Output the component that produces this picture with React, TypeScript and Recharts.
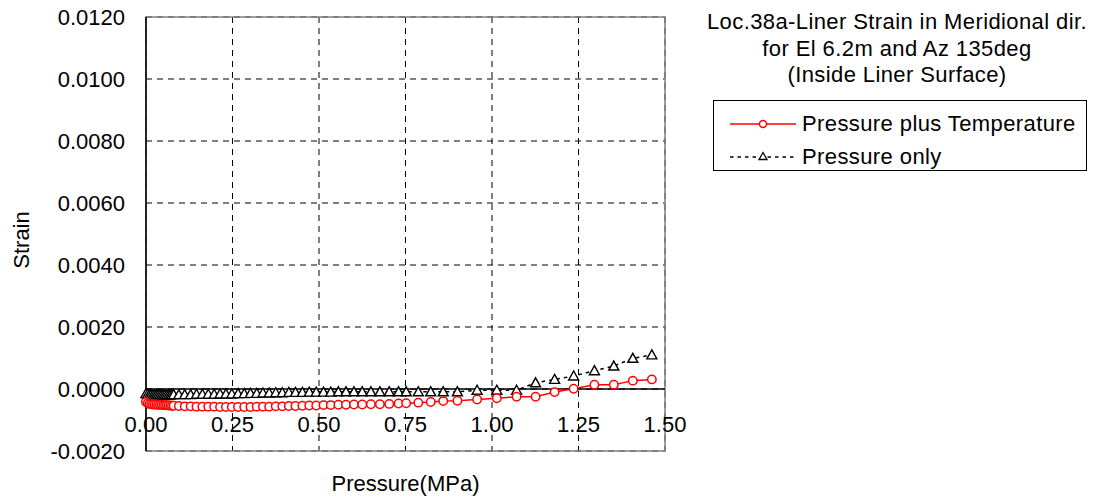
import React from "react";
import {
  CartesianGrid,
  Legend,
  Line,
  LineChart,
  ReferenceArea,
  ReferenceLine,
  XAxis,
  YAxis,
} from "recharts";

const FONT = "'Liberation Sans', Arial, sans-serif";

// pressure (MPa)
const pressure = [
  0, 0.005, 0.01, 0.015, 0.02, 0.025, 0.03, 0.035, 0.04, 0.045, 0.05, 0.055,
  0.06, 0.065, 0.07, 0.075, 0.08,
  0.095, 0.112, 0.129, 0.146, 0.163, 0.18, 0.197, 0.214, 0.231, 0.248, 0.266,
  0.284, 0.302, 0.32, 0.338, 0.356, 0.375, 0.394, 0.413, 0.432, 0.452, 0.472,
  0.492, 0.513, 0.534, 0.556, 0.578, 0.601, 0.625, 0.65, 0.676, 0.703, 0.73,
  0.752, 0.787, 0.823, 0.859, 0.9, 0.957, 1.014, 1.071, 1.126, 1.181, 1.236,
  1.296, 1.352, 1.407, 1.462,
];

// Pressure plus Temperature
const strainPT = [
  -0.00042, -0.00046, -0.00048, -0.00049, -0.0005, -0.0005, -0.0005, -0.00051,
  -0.00051, -0.00051, -0.00052, -0.00052, -0.00052, -0.00053, -0.00053,
  -0.00054, -0.00054,
  -0.00055, -0.00056, -0.00056, -0.00057, -0.00057, -0.00057, -0.00057,
  -0.00058, -0.00058, -0.00058, -0.00058, -0.00058, -0.00058, -0.00057,
  -0.00057, -0.00057, -0.00056, -0.00056, -0.00055, -0.00055, -0.00054,
  -0.00053, -0.00053, -0.00052, -0.00052, -0.00051, -0.00051, -0.0005,
  -0.0005, -0.00049, -0.00049, -0.00048, -0.00047,
  -0.00046, -0.00044, -0.00042, -0.00039, -0.00038, -0.00034, -0.0003,
  -0.00025, -0.00025, -0.0001, 0.00001, 0.00014, 0.00014, 0.00027, 0.00031,
];

// Pressure only
const strainP = [
  -0.00015, -0.00017, -0.00018, -0.00018, -0.00019, -0.00019, -0.00019,
  -0.00019, -0.00019, -0.00019, -0.00019, -0.00019, -0.00019, -0.00019,
  -0.00019, -0.00018, -0.00018,
  -0.00018, -0.00018, -0.00018, -0.00017, -0.00017, -0.00017, -0.00017,
  -0.00016, -0.00016, -0.00016, -0.00015, -0.00015, -0.00014, -0.00014,
  -0.00013, -0.00013, -0.00012, -0.00012, -0.00011, -0.00011, -0.00011,
  -0.0001, -0.0001, -0.0001, -0.0001, -0.00009, -0.00009, -0.00009, -0.00009,
  -0.00009, -0.00009, -0.00009, -0.00009,
  -0.00009, -0.00009, -0.00009, -0.00009, -0.00009, -0.00004, -0.00004,
  -0.00004, 0.0002, 0.00031, 0.00042, 0.00059, 0.00074, 0.00099, 0.0011,
];

const xTicks = [0, 0.25, 0.5, 0.75, 1, 1.25, 1.5];
const yTicks = [-0.002, 0, 0.002, 0.004, 0.006, 0.008, 0.01, 0.012];
const titleLines = [
  "Loc.38a-Liner Strain in Meridional dir.",
  "for El 6.2m and Az 135deg",
  "(Inside Liner Surface)",
];
const seriesNames = ["Pressure plus Temperature", "Pressure only"];

const rows = pressure.map((p, i) => ({ p, pt: strainPT[i], po: strainP[i] }));

const Triangle = (props: any) => {
  const { cx, cy } = props;
  if (cx == null || cy == null) return null;
  return (
    <path
      d={`M${cx},${cy - 5}L${cx + 5},${cy + 4}L${cx - 5},${cy + 4}Z`}
      fill="#fff"
      stroke="#000"
      strokeWidth={1.4}
    />
  );
};

const XTick = (props: any) => {
  const { x, y, payload } = props;
  return (
    <text
      x={x}
      y={y - 27}
      textAnchor="middle"
      dominantBaseline="central"
      fontSize={22}
      fontFamily={FONT}
      fill="#000"
    >
      {payload.value.toFixed(2)}
    </text>
  );
};

const StrainLabel = (props: any) => {
  const { viewBox } = props;
  const cx = 21;
  const cy = viewBox.y + viewBox.height / 2 + 6;
  return (
    <text
      x={cx}
      y={cy}
      transform={`rotate(-90 ${cx} ${cy})`}
      textAnchor="middle"
      dominantBaseline="central"
      fontSize={22}
      fontFamily={FONT}
      fill="#000"
    >
      Strain
    </text>
  );
};

const LegendBox = () => (
  <div
    style={{
      border: "1px solid #000",
      background: "#fff",
      width: 374,
      height: 71,
      boxSizing: "border-box",
      padding: "6px 0 0 16px",
      fontFamily: FONT,
      fontSize: 22,
      lineHeight: "33px",
      letterSpacing: "0.4px",
    }}
  >
    {seriesNames.map((name, i) => (
      <div key={name} style={{ display: "flex", alignItems: "center" }}>
        <svg width={72} height={20}>
          {i === 0 ? (
            <>
              <line x1={0} y1={10} x2={66} y2={10} stroke="#ff0000" strokeWidth={1.5} />
              <circle cx={33} cy={10} r={3.5} fill="#fff" stroke="#ff0000" strokeWidth={1.5} />
            </>
          ) : (
            <>
              <line x1={0} y1={10} x2={66} y2={10} stroke="#000" strokeWidth={1.5} strokeDasharray="3.5 4" />
              <path d="M33,5.5L37,12.5L29,12.5Z" fill="#fff" stroke="#000" strokeWidth={1.3} />
            </>
          )}
        </svg>
        <span>{name}</span>
      </div>
    ))}
  </div>
);

export default function App() {
  return (
    <div style={{ position: "absolute", left: 0, top: 0, width: 1096, height: 499 }}>
      <LineChart
        width={1096}
        height={499}
        data={rows}
        margin={{ top: 17, right: 431, bottom: 0, left: 0 }}
      >
        <CartesianGrid stroke="#000" strokeDasharray="6 5" />
        <XAxis
          dataKey="p"
          type="number"
          domain={[0, 1.5]}
          ticks={xTicks}
          height={48}
          axisLine={false}
          tickLine={false}
          tickSize={0}
          tickMargin={0}
          tick={<XTick />}
          label={{
            value: "Pressure(MPa)",
            position: "insideBottom",
            offset: 8,
            fontSize: 22,
            fontFamily: FONT,
            fill: "#000",
          }}
        />
        <YAxis
          type="number"
          domain={[-0.002, 0.012]}
          ticks={yTicks}
          width={146}
          axisLine={{ stroke: "#000", strokeWidth: 1.5 }}
          tickLine={false}
          tickSize={0}
          tickMargin={21}
          tickFormatter={(v: number) => v.toFixed(4)}
          tick={{ fontSize: 22, fontFamily: FONT, fill: "#000" }}
          label={<StrainLabel />}
        />
        <ReferenceArea
          x1={0}
          x2={1.5}
          y1={-0.002}
          y2={0.012}
          fill="none"
          stroke="#808080"
          strokeWidth={1.5}
          ifOverflow="visible"
        />
        <ReferenceLine y={0} stroke="#000" strokeWidth={1.5} />
        <Legend
          layout="vertical"
          align="center"
          verticalAlign="middle"
          content={<LegendBox />}
          wrapperStyle={{ left: 713, top: 100, width: 374 }}
        />
        <Line
          dataKey="po"
          name={seriesNames[1]}
          stroke="#000"
          strokeWidth={1.5}
          strokeDasharray="3.5 4"
          dot={<Triangle />}
          isAnimationActive={false}
        />
        <Line
          dataKey="pt"
          name={seriesNames[0]}
          stroke="#ff0000"
          strokeWidth={1.5}
          dot={{ r: 4.2, fill: "#fff", stroke: "#ff0000", strokeWidth: 1.5 }}
          isAnimationActive={false}
        />
      </LineChart>
      <div
        style={{
          position: "absolute",
          left: 700,
          top: 9,
          width: 394,
          textAlign: "center",
          fontFamily: FONT,
          fontSize: 22,
          lineHeight: "26.5px",
          letterSpacing: "0.4px",
          color: "#000",
        }}
      >
        {titleLines.map((t) => (
          <div key={t}>{t}</div>
        ))}
      </div>
    </div>
  );
}
